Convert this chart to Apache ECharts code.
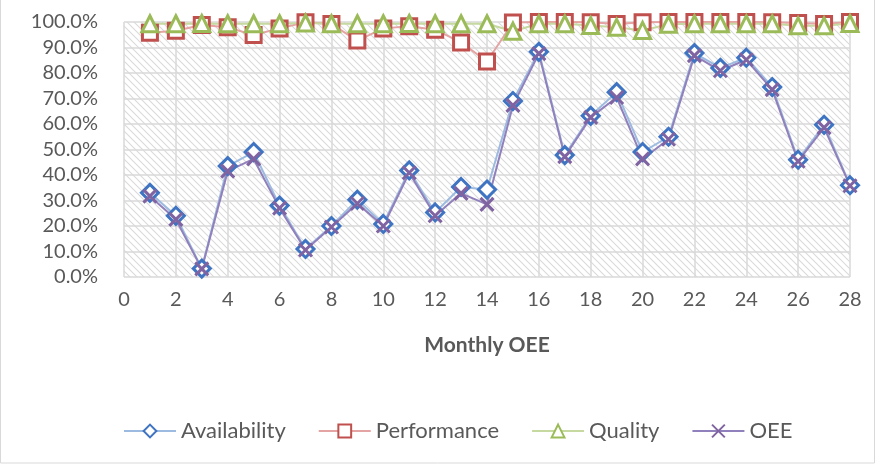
<!DOCTYPE html>
<html>
<head>
<meta charset="utf-8">
<script src="https://cdn.jsdelivr.net/npm/echarts@6/dist/echarts.min.js"></script>
<style>
  html, body { margin: 0; padding: 0; background: #fff; }
  #main { width: 876px; height: 464px; }
</style>
</head>
<body>
<div id="main"></div>
<script>
const months = [1,2,3,4,5,6,7,8,9,10,11,12,13,14,15,16,17,18,19,20,21,22,23,24,25,26,27,28];
const availability = [33,24,3.3,43.5,49,28,11,20,30.3,20.8,41.8,25.3,35.3,34.3,69,88.3,47.8,63.2,72.5,49,55,87.8,82,86,74.5,46,59.7,36];
const performance = [95.8,96.6,98.8,97.9,94.9,97.5,99.9,99.2,92.7,97.5,98.3,97,92,84.5,99.8,100,100,99.9,99.2,99.9,100,100,100,100,99.9,99.6,99.2,100];
const quality = [99.3,99.3,99.4,99.3,99.3,99.3,99.6,99.3,99.3,99.3,99.4,99.3,99.3,99.3,96.4,99.3,99.3,98.6,97.9,96.7,99.1,99.3,99.3,99.3,99.3,98.5,98.5,99.4];
const oee = [31.7,22.6,3.2,41.5,46.3,27,10.6,19.6,28.8,20,40.9,24,32.8,28.5,67.3,87.6,47.2,62.6,70.4,46.3,54,86.8,80.9,85.2,73.5,45.4,58.6,35.8];
const yTicks = [0,10,20,30,40,50,60,70,80,90,100];

function pairs(vals) {
  return months.map((m, i) => [m, vals[i]]);
}

// diagonal hatch for the plot area
const hatch = document.createElement('canvas');
hatch.width = 7; hatch.height = 7;
const hc = hatch.getContext('2d');
hc.fillStyle = '#ffffff';
hc.fillRect(0, 0, 7, 7);
hc.strokeStyle = '#dadada';
hc.lineWidth = 1.1;
hc.beginPath();
hc.moveTo(0, 0); hc.lineTo(7, 7);
hc.moveTo(-3.5, 3.5); hc.lineTo(3.5, 10.5);
hc.moveTo(3.5, -3.5); hc.lineTo(10.5, 3.5);
hc.stroke();

const font = 'Lato, Carlito, Calibri, sans-serif';
const crossPath = 'path://M0,0 L10,10 M10,0 L0,10';

function lineSeries(name, vals, symbol, size, markColor, lineColor) {
  return {
    name: name,
    type: 'line',
    data: pairs(vals),
    symbol: symbol,
    symbolSize: size,
    showAllSymbol: true,
    lineStyle: { color: lineColor, width: 2 },
    itemStyle: {
      color: symbol === crossPath ? markColor : '#ffffff',
      borderColor: markColor,
      borderWidth: 3
    },
    emphasis: { disabled: true },
    z: 2
  };
}

const chart = echarts.init(document.getElementById('main'));
chart.setOption({
  animation: false,
  backgroundColor: '#ffffff',
  textStyle: { fontFamily: font },
  grid: {
    left: 124, right: 26, top: 22, bottom: 187,
    show: true,
    borderWidth: 0,
    backgroundColor: { image: hatch, repeat: 'repeat' }
  },
  xAxis: {
    type: 'value',
    min: 0, max: 28, interval: 2,
    name: 'Monthly OEE',
    nameLocation: 'middle',
    nameGap: 58,
    nameTextStyle: { fontFamily: font, fontSize: 21, fontWeight: 'bold', color: '#595959' },
    axisLine: { show: false },
    axisTick: { show: false },
    axisLabel: { fontFamily: font, fontSize: 20, color: '#595959', margin: 13 },
    splitLine: { show: true, lineStyle: { color: '#d9d9d9', width: 1.5 } }
  },
  yAxis: {
    type: 'value',
    min: yTicks[0], max: yTicks[yTicks.length - 1], interval: 10,
    axisLine: { show: false },
    axisTick: { show: false },
    axisLabel: { fontFamily: font, fontSize: 20, color: '#595959', margin: 26,
      formatter: v => v.toFixed(1) + '%' },
    splitLine: { show: true, lineStyle: { color: '#d9d9d9', width: 1.5 } }
  },
  legend: {
    top: 415,
    left: 118,
    itemWidth: 52,
    itemHeight: 16,
    itemGap: 32,
    textStyle: { fontFamily: font, fontSize: 22, color: '#595959' },
    data: ['Availability', 'Performance', 'Quality', 'OEE']
  },
  graphic: [{
    type: 'rect',
    shape: { x: 0.5, y: -2, width: 874, height: 465 },
    style: { fill: 'none', stroke: '#d9d9d9', lineWidth: 1 },
    silent: true
  }],
  series: [
    lineSeries('Availability', availability, 'diamond', 17, '#3f74c2', '#9dbbe0'),
    lineSeries('Performance', performance, 'rect', 15, '#c0504d', '#e3a4a3'),
    lineSeries('Quality', quality, 'triangle', 16, '#9bbb59', '#c5d9a0'),
    lineSeries('OEE', oee, crossPath, 13, '#8064a2', '#9080bc')
  ]
});
</script>
</body>
</html>
